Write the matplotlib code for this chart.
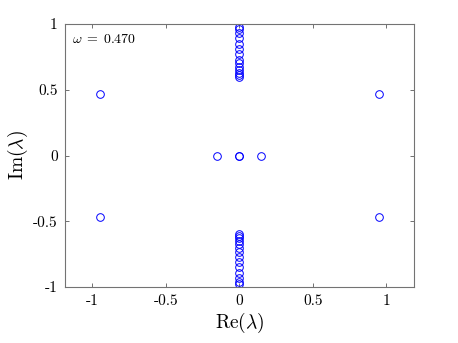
import matplotlib
matplotlib.use('Agg')
import matplotlib.pyplot as plt

plt.rcParams['font.family'] = 'cmr10'
plt.rcParams['mathtext.fontset'] = 'cm'
plt.rcParams['axes.unicode_minus'] = False

# eigenvalues
im_upper = [0.98, 0.96, 0.93, 0.89, 0.85, 0.81, 0.77, 0.73, 0.70, 0.67, 0.65, 0.63, 0.61, 0.60]
outer_re = [-0.95, -0.95, 0.95, 0.95]
outer_im = [0.465, -0.465, 0.465, -0.465]
center_re = [-0.15, 0.0, 0.0, 0.15]
center_im = [0.0, 0.0, 0.0, 0.0]

re_vals = [0.0] * (2 * len(im_upper)) + outer_re + center_re
im_vals = im_upper + [-v for v in im_upper] + outer_im + center_im

ticks = [-1, -0.5, 0, 0.5, 1]
tick_labels = ['-1', '-0.5', '0', '0.5', '1']

fig = plt.figure(figsize=(4.58, 3.43), dpi=100)
ax = fig.add_axes([0.141, 0.163, 0.763, 0.767])

ax.plot(re_vals, im_vals, 'o', color='blue', markerfacecolor='none',
        markersize=5.5, markeredgewidth=0.7)

ax.set_xlim(-1.19, 1.19)
ax.set_ylim(-1, 1)
ax.set_xticks(ticks)
ax.set_xticklabels(tick_labels)
ax.set_yticks(ticks)
ax.set_yticklabels(tick_labels)
ax.tick_params(direction='in', top=True, right=True, length=3, width=0.6,
               color='0.35', labelsize=11, pad=5)
for s in ax.spines.values():
    s.set_color('0.45')
    s.set_linewidth(0.8)

ax.set_xlabel(r'$\mathrm{Re}(\lambda)$', fontsize=14, labelpad=2)
ax.set_ylabel(r'$\mathrm{Im}(\lambda)$', fontsize=14, labelpad=2)
ax.text(0.02, 0.94, r'$\omega \;=\; 0.470$', transform=ax.transAxes,
        fontsize=10, va='center', ha='left')

fig.savefig('out.png', dpi=100)
